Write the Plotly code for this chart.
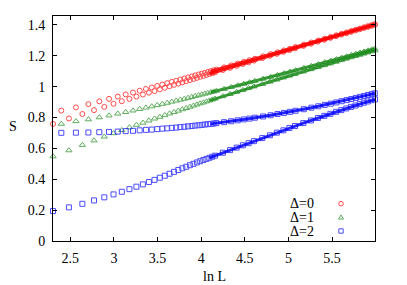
import numpy as np
import plotly.graph_objects as go

# ---------------- data ----------------
L_even = [10, 12, 14, 16, 18, 20, 22, 24, 26, 28, 30, 32, 34, 36, 38, 40, 42, 44, 46, 48,
          50, 52, 54, 56, 58, 60, 62, 64, 70, 76, 82, 88, 94, 100, 110, 120, 130, 140, 150, 160,
          176, 192, 208, 224, 240, 256, 272, 288, 304, 320, 336, 352, 368, 384, 400]
L_odd = [11, 13, 15, 17, 19, 21, 23, 25, 27, 29, 31, 33, 35, 37, 39, 41, 43, 45, 47, 49,
         51, 53, 55, 57, 59, 61, 63, 65, 71, 77, 83, 89, 95, 101, 111, 121, 131, 141, 151, 161,
         177, 193, 209, 225, 241, 257, 273, 289, 305, 321, 337, 353, 369, 385, 399]

S0_even = [0.759, 0.794, 0.823, 0.848, 0.869, 0.889, 0.906, 0.921, 0.936, 0.949, 0.961, 0.972,
           0.983, 0.993, 1.003, 1.012, 1.020, 1.028, 1.036, 1.043, 1.050, 1.057, 1.064, 1.070,
           1.076, 1.082, 1.087, 1.093, 1.108, 1.122, 1.135, 1.147, 1.158, 1.169, 1.185, 1.200,
           1.213, 1.226, 1.237, 1.248, 1.264, 1.278, 1.292, 1.304, 1.316, 1.327, 1.337, 1.346,
           1.355, 1.364, 1.372, 1.380, 1.387, 1.394, 1.401]
S0_odd = [0.845, 0.866, 0.887, 0.905, 0.921, 0.936, 0.950, 0.962, 0.974, 0.985, 0.995, 1.005,
          1.014, 1.023, 1.031, 1.038, 1.046, 1.053, 1.060, 1.066, 1.073, 1.079, 1.085, 1.090,
          1.096, 1.101, 1.106, 1.111, 1.125, 1.138, 1.150, 1.161, 1.172, 1.181, 1.197, 1.211,
          1.223, 1.235, 1.246, 1.257, 1.272, 1.286, 1.299, 1.311, 1.322, 1.333, 1.343, 1.352,
          1.361, 1.369, 1.377, 1.385, 1.392, 1.399, 1.405]

S1_even = [0.548, 0.587, 0.622, 0.651, 0.676, 0.698, 0.718, 0.736, 0.752, 0.766, 0.780, 0.793,
           0.804, 0.815, 0.826, 0.835, 0.844, 0.853, 0.861, 0.869, 0.877, 0.884, 0.891, 0.897,
           0.904, 0.910, 0.916, 0.922, 0.938, 0.952, 0.966, 0.978, 0.990, 1.001, 1.017, 1.032,
           1.046, 1.059, 1.071, 1.082, 1.098, 1.113, 1.126, 1.139, 1.150, 1.161, 1.171, 1.181,
           1.190, 1.198, 1.206, 1.214, 1.221, 1.228, 1.235]
S1_odd = [0.759, 0.776, 0.788, 0.801, 0.813, 0.825, 0.835, 0.845, 0.855, 0.864, 0.872, 0.880,
          0.888, 0.895, 0.902, 0.909, 0.915, 0.921, 0.927, 0.933, 0.939, 0.944, 0.949, 0.954,
          0.959, 0.964, 0.968, 0.973, 0.985, 0.997, 1.008, 1.018, 1.028, 1.037, 1.051, 1.063,
          1.075, 1.086, 1.097, 1.106, 1.121, 1.134, 1.146, 1.158, 1.168, 1.178, 1.187, 1.196,
          1.205, 1.213, 1.220, 1.227, 1.234, 1.241, 1.246]

S2_even = [0.194, 0.218, 0.241, 0.263, 0.283, 0.302, 0.319, 0.336, 0.352, 0.367, 0.382, 0.396,
           0.410, 0.423, 0.436, 0.448, 0.460, 0.471, 0.481, 0.491, 0.500, 0.509, 0.517, 0.525,
           0.532, 0.539, 0.546, 0.553, 0.572, 0.589, 0.605, 0.620, 0.634, 0.647, 0.667, 0.685,
           0.702, 0.717, 0.732, 0.745, 0.764, 0.781, 0.797, 0.811, 0.824, 0.837, 0.848, 0.859,
           0.869, 0.878, 0.887, 0.896, 0.904, 0.912, 0.918]
S2_odd = [0.701, 0.702, 0.703, 0.705, 0.707, 0.709, 0.712, 0.714, 0.717, 0.720, 0.722, 0.725,
          0.728, 0.730, 0.733, 0.735, 0.738, 0.740, 0.743, 0.745, 0.748, 0.750, 0.752, 0.755,
          0.757, 0.759, 0.761, 0.764, 0.770, 0.776, 0.782, 0.788, 0.793, 0.799, 0.807, 0.815,
          0.823, 0.830, 0.837, 0.844, 0.854, 0.864, 0.873, 0.882, 0.890, 0.898, 0.906, 0.913,
          0.920, 0.927, 0.934, 0.940, 0.946, 0.952, 0.957]

legend_labels = ["Δ=0", "Δ=1", "Δ=2"]
x_tick_vals = [2.5, 3, 3.5, 4, 4.5, 5, 5.5]
x_tick_text = ["2.5", "3", "3.5", "4", "4.5", "5", "5.5"]
y_tick_vals = [0, 0.2, 0.4, 0.6, 0.8, 1.0, 1.2, 1.4]
y_tick_text = ["0", "0.2", "0.4", "0.6", "0.8", "1", "1.2", "1.4"]
x_label = "ln L"
y_label = "S"

# ---------------- styling ----------------
FONT = "Liberation Serif, Times New Roman, serif"
FS = 14
colors = ["#ff0000", "#1c8c1c", "#0000ff"]
symbols = ["circle-open", "triangle-up-open", "square-open"]
sizes = [5, 5.5, 5]
series = [(S0_even, S0_odd), (S1_even, S1_odd), (S2_even, S2_odd)]

# the page body has an 8px margin: the figure is sized so that the plot box
# lands at the reference position (x 53..375, y 16..241 in the window)
OFF = 8
W, H = 399, 277
ML, MR, MT, MB = 45, 32, 8, 44
PW, PH = W - ML - MR, H - MT - MB

fig = go.Figure()
DENSE_FROM = 60

# thick band underlay for the dense part of every branch
for (s_even, s_odd), col in zip(series, colors):
    for Ls, Ss in ((L_even, s_even), (L_odd, s_odd)):
        xs = [np.log(l) for l, s in zip(Ls, Ss) if l >= DENSE_FROM]
        ys = [s for l, s in zip(Ls, Ss) if l >= DENSE_FROM]
        fig.add_trace(go.Scatter(x=xs, y=ys, mode="lines", line=dict(color=col, width=3),
                                 opacity=0.85, hoverinfo="skip", showlegend=False,
                                 cliponaxis=False))

for (s_even, s_odd), col, sym, sz, name in zip(series, colors, symbols, sizes, legend_labels):
    xs = np.log(np.array(L_even + L_odd, dtype=float))
    ys = list(s_even) + list(s_odd)
    fig.add_trace(go.Scatter(x=xs, y=ys, mode="markers", name=name, showlegend=False,
                             cliponaxis=False, opacity=0.7,
                             marker=dict(symbol=sym, size=sz, color=col,
                                         line=dict(color=col, width=1))))

axis_common = dict(ticks="inside", ticklen=4, tickwidth=1, tickcolor="black",
                   showline=True, linecolor="black", linewidth=1, mirror="allticks",
                   showgrid=False, zeroline=False,
                   tickfont=dict(family=FONT, size=FS, color="black"))

fig.update_layout(
    width=W, height=H,
    margin=dict(l=ML, r=MR, t=MT, b=MB, pad=0, autoexpand=False),
    paper_bgcolor="white", plot_bgcolor="white",
    showlegend=False,
    font=dict(family=FONT, size=FS, color="black"),
    xaxis=dict(range=[np.log(10), np.log(400)], tickvals=x_tick_vals, ticktext=x_tick_text,
               ticklabelstandoff=4, automargin=False, **axis_common),
    yaxis=dict(range=[0, 1.458], tickvals=y_tick_vals, ticktext=y_tick_text,
               ticklabelstandoff=4, automargin=False, **axis_common),
)


def px_x(px):
    return (px - OFF - ML) / PW


def px_y(py):
    return (OFF + H - MB - py) / PH


annotations = [
    dict(text=y_label, x=px_x(13), y=px_y(127), xref="paper", yref="paper",
         showarrow=False, xanchor="center", yanchor="middle", font=dict(size=FS)),
    dict(text=x_label, x=px_x(214), y=px_y(276), xref="paper", yref="paper",
         showarrow=False, xanchor="center", yanchor="middle", font=dict(size=FS)),
]
legend_rows = [203.7, 217.3, 231.0]
shapes = []
for i, (lab, col) in enumerate(zip(legend_labels, colors)):
    yrow = px_y(legend_rows[i])
    annotations.append(dict(text=lab, x=px_x(316), y=yrow, xref="paper", yref="paper",
                            showarrow=False, xanchor="right", yanchor="middle",
                            font=dict(size=FS)))
    base = dict(xref="paper", yref="paper", xsizemode="pixel", ysizemode="pixel",
                xanchor=px_x(341), yanchor=yrow, line=dict(color=col, width=1),
                fillcolor="rgba(0,0,0,0)", opacity=0.7)
    if i == 0:
        shapes.append(dict(type="circle", x0=-2.3, x1=2.3, y0=-2.3, y1=2.3, **base))
    elif i == 1:
        shapes.append(dict(type="path", path="M -2.5,-1.8 L 2.5,-1.8 L 0,2.4 Z", **base))
    else:
        shapes.append(dict(type="rect", x0=-2.2, x1=2.2, y0=-2.2, y1=2.2, **base))

fig.update_layout(annotations=annotations, shapes=shapes)
fig.write_html("out.html")
